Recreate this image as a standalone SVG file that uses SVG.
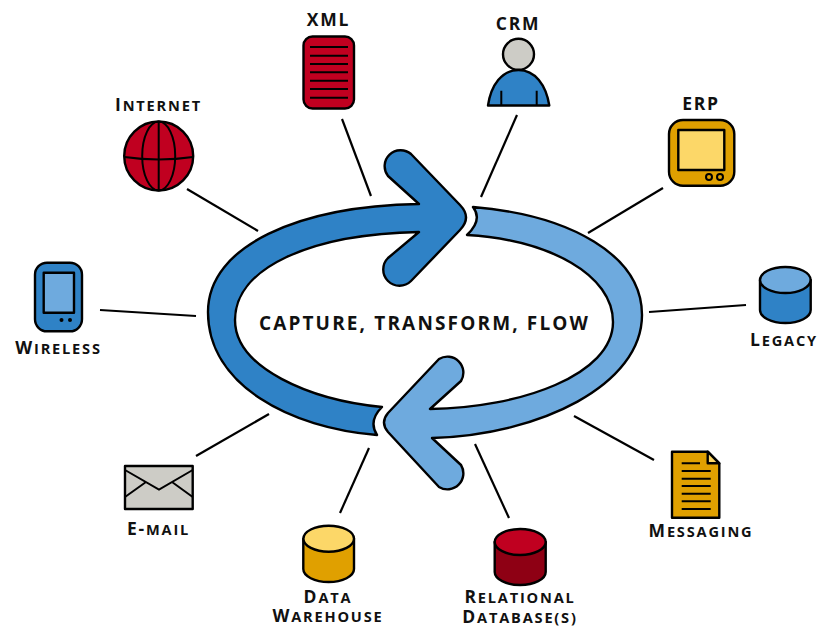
<svg xmlns="http://www.w3.org/2000/svg" width="817" height="627" viewBox="0 0 817 627">
<style>
.o{stroke:#000;stroke-width:2.4;stroke-linejoin:round}
.l{stroke:#000;stroke-width:2;fill:none}
.c{stroke:#000;stroke-width:2.2;fill:none}
.t{font-family:"Open Sans","DejaVu Sans",sans-serif;font-weight:700;font-size:17.5px;letter-spacing:1.8px;text-anchor:middle;fill:#111}
.s{font-size:14.6px}
.red{fill:#c00020}.dred{fill:#8e0014}.blue{fill:#2f82c6}.lblue{fill:#6eaade}.gold{fill:#e0a000}.lgold{fill:#fcd768}.gray{fill:#cdccc6}
</style>
<rect width="817" height="627" fill="#fff"/>
<g id="connectors">
<line class="c" x1="187" y1="189" x2="258" y2="231"/>
<line class="c" x1="342" y1="119" x2="371" y2="196"/>
<line class="c" x1="517" y1="115" x2="481" y2="197"/>
<line class="c" x1="663" y1="188" x2="588" y2="233"/>
<line class="c" x1="746" y1="305" x2="649" y2="312"/>
<line class="c" x1="654" y1="460" x2="574" y2="416"/>
<line class="c" x1="509" y1="518" x2="475" y2="444"/>
<line class="c" x1="340" y1="513" x2="369" y2="448"/>
<line class="c" x1="196" y1="456" x2="269" y2="414"/>
<line class="c" x1="100" y1="310" x2="196" y2="316"/>
</g>
<g id="cycle">
<path id="arrow-dark" class="o blue" d="M419,204 L388,176 A16,16 0 0 1 411,154 L460,205 Q472,217.500 460,230 L411,281 A16,16 0 0 1 388,258 L419,232 C310,234 235,268 235,320 C235,368 310,400 382,407 Q368,421 377,435 C290,428 208,385 208,312 C208,245 300,206 419,204 Z"/>
<path id="arrow-light" class="o lblue" d="M473,207 C570,215 642,255 642,315 C642,385 540,435 432,438 L461,465 A16,16 0 0 1 439,487 L388,432 Q380,422.500 388,413 L439,359 A16,16 0 0 1 461,381 L430,409 C520,408 613,375 613,322 C613,275 550,240 467,235 Q483,220 473,207 Z"/>
<text class="t" x="424.500" y="330" style="font-size:19px;letter-spacing:2.150px">CAPTURE, TRANSFORM, FLOW</text>
</g>
<g id="internet">
<circle class="o red" cx="158.700" cy="156" r="34.500"/>
<ellipse class="l" cx="158.700" cy="156" rx="16.500" ry="34.500"/>
<path class="l" d="M158.700,121.500V190.500M124.500,157Q158.700,162 193,157"/>
<text class="t" x="158.500" y="111">I<tspan class="s">NTERNET</tspan></text>
</g>
<g id="xml">
<rect class="o red" x="303.500" y="36.500" width="50.500" height="72" rx="9"/>
<path class="l" d="M310,47H348M310,55.700H348M310,64H348M310,72.300H348M310,80.700H348M310,89H348M310,97.700H348"/>
<text class="t" x="328.500" y="26">XML</text>
</g>
<g id="crm">
<path class="o blue" d="M488,105.500C491,85 502,70 518.500,70C535,70 546,85 549.300,105.500Z"/>
<path class="l" d="M501.300,90.700V105M536.700,90.700V105"/>
<circle class="o gray" cx="518.500" cy="54.300" r="15.500"/>
<text class="t" x="518" y="30">CRM</text>
</g>
<g id="erp">
<rect class="o gold" x="669" y="120" width="65.300" height="65.700" rx="14"/>
<rect class="o lgold" x="678.300" y="130" width="46" height="40"/>
<circle class="l" cx="709" cy="177" r="3"/><circle class="l" cx="720" cy="177" r="3"/>
<text class="t" x="701" y="110">ERP</text>
</g>
<g id="legacy">
<path class="o blue" d="M760,280V310A25.300,13 0 0 0 810.700,310V280Z"/>
<ellipse class="o lblue" cx="785.300" cy="280" rx="25.300" ry="13"/>
<text class="t" x="784" y="346">L<tspan class="s">EGACY</tspan></text>
</g>
<g id="messaging">
<path class="o gold" d="M672,451.700H707.700L719.300,463.300V517.700H672Z"/>
<path class="o lgold" d="M707.700,451.700V463.300H719.300Z"/>
<path class="l" d="M681.700,463.300H700M681.700,471H710.700M681.700,478.700H710.700M681.700,486H710.700M681.700,493.700H710.700M681.700,501.300H710.700M681.700,509H710.700"/>
<text class="t" x="701" y="537">M<tspan class="s">ESSAGING</tspan></text>
</g>
<g id="relational-database">
<path class="o dred" d="M494.700,542V572A25.500,13 0 0 0 545.700,572V542Z"/>
<ellipse class="o red" cx="520.200" cy="542" rx="25.500" ry="13"/>
<text class="t" x="520" y="602.500">R<tspan class="s">ELATIONAL</tspan></text>
<text class="t" x="520" y="622.500">D<tspan class="s">ATABASE(S)</tspan></text>
</g>
<g id="data-warehouse">
<path class="o gold" d="M303.300,538.700V569A25.300,13 0 0 0 354,569V538.700Z"/>
<ellipse class="o lgold" cx="328.700" cy="538.700" rx="25.300" ry="13"/>
<text class="t" x="328" y="603">D<tspan class="s">ATA</tspan></text>
<text class="t" x="328" y="622">W<tspan class="s">AREHOUSE</tspan></text>
</g>
<g id="email">
<rect class="o gray" x="125" y="466" width="67.700" height="43"/>
<path class="l" d="M125,470L159,489.500L192.700,470M125,497L146,482M192.700,497L172,482"/>
<text class="t" x="158.500" y="535">E-<tspan class="s">MAIL</tspan></text>
</g>
<g id="wireless">
<rect class="o blue" x="35" y="262.700" width="47" height="68.600" rx="12"/>
<rect class="o lblue" x="43.700" y="272.700" width="30.300" height="40"/>
<circle cx="61.500" cy="320" r="2"/><circle cx="70" cy="320" r="2"/>
<text class="t" x="58.500" y="354">W<tspan class="s">IRELESS</tspan></text>
</g>
</svg>
